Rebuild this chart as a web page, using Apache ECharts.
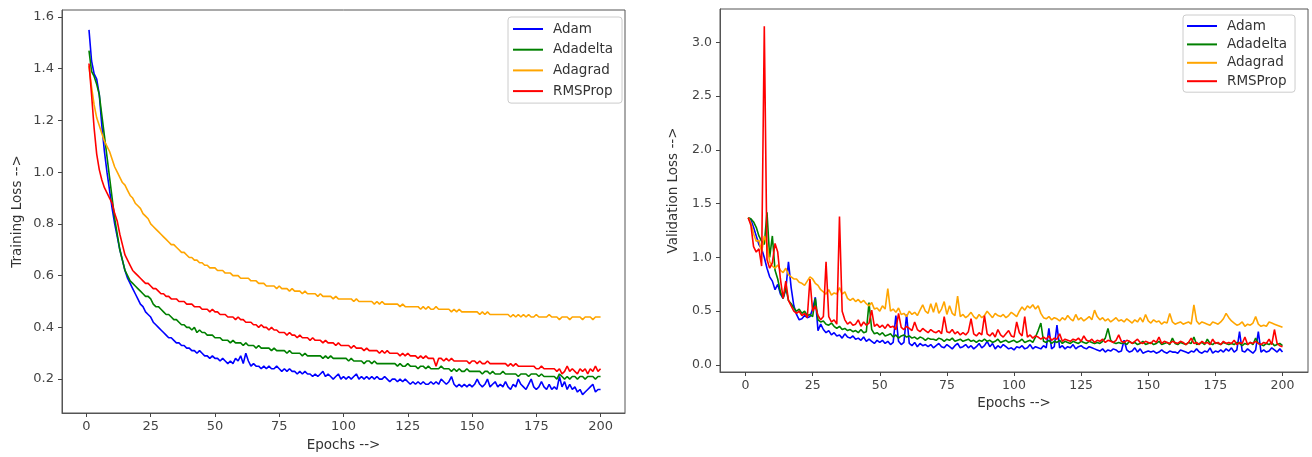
<!DOCTYPE html>
<html>
<head>
<meta charset="utf-8">
<script src="https://cdn.jsdelivr.net/npm/echarts@6/dist/echarts.min.js"></script>
<style>
html,body{margin:0;padding:0;background:#fff;}
#chart{width:1312px;height:457px;}
</style>
</head>
<body>
<div id="chart"></div>
<script>
const seriesNames = ['Adam', 'Adadelta', 'Adagrad', 'RMSProp'];
const xTicks = [0, 25, 50, 75, 100, 125, 150, 175, 200];
const yTicksTrain = [0.2, 0.4, 0.6, 0.8, 1.0, 1.2, 1.4, 1.6];
const yTicksVal = [0.0, 0.5, 1.0, 1.5, 2.0, 2.5, 3.0];
const xTitle = 'Epochs -->';
const yTitleTrain = 'Training Loss -->';
const yTitleVal = 'Validation Loss -->';

// Training loss, epochs 1..200
const trainAdam = [
1.55,1.43,1.38,1.36,1.30,1.18,1.08,1.00,0.93,0.86,
0.80,0.75,0.70,0.66,0.62,0.59,0.57,0.55,0.53,0.51,
0.49,0.48,0.46,0.45,0.44,0.42,0.41,0.40,0.39,0.38,
0.37,0.36,0.36,0.35,0.34,0.34,0.33,0.33,0.32,0.32,
0.31,0.31,0.30,0.31,0.30,0.29,0.29,0.28,0.29,0.28,
0.28,0.27,0.28,0.27,0.26,0.27,0.26,0.28,0.27,0.29,
0.26,0.30,0.27,0.25,0.26,0.25,0.25,0.24,0.25,0.24,
0.25,0.24,0.24,0.25,0.24,0.23,0.24,0.23,0.24,0.23,
0.23,0.22,0.23,0.22,0.23,0.22,0.22,0.21,0.22,0.21,
0.22,0.23,0.21,0.22,0.21,0.20,0.21,0.22,0.20,0.21,
0.20,0.21,0.20,0.21,0.22,0.20,0.21,0.20,0.21,0.20,
0.21,0.20,0.21,0.20,0.20,0.21,0.20,0.19,0.20,0.20,
0.19,0.20,0.19,0.20,0.19,0.18,0.19,0.18,0.19,0.18,
0.19,0.18,0.18,0.19,0.18,0.19,0.18,0.20,0.19,0.18,
0.19,0.21,0.18,0.17,0.18,0.17,0.18,0.17,0.18,0.17,
0.18,0.20,0.18,0.17,0.18,0.20,0.17,0.18,0.19,0.17,
0.18,0.17,0.19,0.17,0.16,0.18,0.17,0.20,0.18,0.17,
0.16,0.18,0.20,0.17,0.16,0.17,0.19,0.17,0.16,0.18,
0.16,0.17,0.16,0.21,0.17,0.19,0.16,0.18,0.16,0.17,
0.15,0.16,0.14,0.15,0.16,0.17,0.18,0.15,0.16,0.16];
const trainAdadelta = [
1.47,1.39,1.37,1.34,1.30,1.22,1.14,1.06,0.98,0.90,
0.82,0.76,0.70,0.66,0.62,0.60,0.58,0.57,0.56,0.55,
0.54,0.53,0.52,0.52,0.51,0.49,0.48,0.48,0.47,0.46,
0.45,0.45,0.44,0.43,0.43,0.42,0.41,0.41,0.40,0.40,
0.39,0.40,0.38,0.39,0.38,0.38,0.37,0.37,0.37,0.36,
0.36,0.36,0.35,0.35,0.35,0.34,0.35,0.34,0.34,0.34,
0.33,0.34,0.33,0.33,0.33,0.32,0.33,0.32,0.32,0.32,
0.32,0.31,0.32,0.31,0.31,0.31,0.31,0.30,0.31,0.30,
0.30,0.30,0.30,0.29,0.30,0.29,0.29,0.29,0.29,0.29,
0.29,0.28,0.29,0.28,0.29,0.28,0.28,0.28,0.28,0.28,
0.28,0.27,0.28,0.27,0.27,0.27,0.27,0.26,0.27,0.27,
0.26,0.27,0.26,0.26,0.26,0.26,0.26,0.26,0.26,0.26,
0.25,0.26,0.25,0.25,0.26,0.25,0.25,0.25,0.24,0.25,
0.25,0.24,0.25,0.24,0.24,0.24,0.24,0.25,0.24,0.24,
0.24,0.23,0.24,0.23,0.24,0.23,0.23,0.24,0.23,0.23,
0.23,0.23,0.23,0.22,0.23,0.23,0.22,0.23,0.22,0.22,
0.22,0.23,0.22,0.22,0.22,0.22,0.22,0.21,0.22,0.22,
0.22,0.21,0.22,0.22,0.22,0.21,0.22,0.21,0.21,0.21,
0.21,0.21,0.20,0.22,0.21,0.20,0.21,0.20,0.21,0.21,
0.20,0.21,0.21,0.20,0.21,0.21,0.21,0.20,0.21,0.21];
const trainAdagrad = [
1.41,1.33,1.26,1.21,1.18,1.15,1.12,1.10,1.08,1.05,
1.02,1.00,0.98,0.96,0.95,0.93,0.91,0.90,0.88,0.87,
0.86,0.84,0.83,0.82,0.80,0.79,0.78,0.77,0.76,0.75,
0.74,0.73,0.72,0.72,0.71,0.70,0.69,0.69,0.68,0.67,
0.67,0.66,0.66,0.65,0.65,0.64,0.64,0.63,0.63,0.63,
0.62,0.62,0.62,0.61,0.61,0.61,0.60,0.60,0.60,0.59,
0.59,0.59,0.59,0.58,0.58,0.58,0.57,0.57,0.57,0.56,
0.56,0.56,0.56,0.55,0.56,0.55,0.55,0.55,0.54,0.55,
0.54,0.54,0.54,0.53,0.54,0.53,0.53,0.53,0.53,0.52,
0.53,0.52,0.52,0.52,0.52,0.51,0.52,0.51,0.51,0.51,
0.51,0.51,0.51,0.50,0.51,0.50,0.50,0.50,0.50,0.50,
0.50,0.49,0.50,0.49,0.50,0.49,0.49,0.49,0.49,0.49,
0.49,0.48,0.49,0.48,0.48,0.48,0.48,0.48,0.48,0.47,
0.48,0.47,0.48,0.47,0.47,0.48,0.47,0.47,0.47,0.47,
0.47,0.46,0.47,0.46,0.47,0.46,0.46,0.46,0.46,0.46,
0.46,0.46,0.45,0.46,0.45,0.46,0.45,0.45,0.45,0.45,
0.45,0.45,0.45,0.45,0.44,0.45,0.44,0.45,0.44,0.45,
0.44,0.45,0.44,0.44,0.45,0.44,0.44,0.44,0.44,0.45,
0.44,0.44,0.44,0.43,0.44,0.44,0.44,0.43,0.44,0.44,
0.44,0.44,0.43,0.44,0.44,0.44,0.43,0.44,0.44,0.44];
const trainRMSProp = [
1.42,1.30,1.17,1.07,1.01,0.97,0.94,0.92,0.90,0.88,
0.84,0.81,0.76,0.72,0.68,0.66,0.64,0.62,0.61,0.60,
0.59,0.58,0.57,0.57,0.56,0.55,0.55,0.54,0.53,0.53,
0.52,0.52,0.51,0.51,0.51,0.50,0.50,0.50,0.49,0.49,
0.49,0.48,0.48,0.48,0.47,0.47,0.47,0.46,0.47,0.46,
0.46,0.45,0.45,0.45,0.44,0.44,0.44,0.43,0.44,0.43,
0.43,0.42,0.42,0.42,0.41,0.41,0.40,0.41,0.40,0.40,
0.39,0.40,0.39,0.39,0.38,0.38,0.38,0.37,0.38,0.37,
0.37,0.36,0.37,0.36,0.36,0.36,0.35,0.36,0.35,0.35,
0.35,0.34,0.35,0.34,0.34,0.34,0.33,0.34,0.33,0.33,
0.33,0.33,0.32,0.33,0.32,0.32,0.32,0.31,0.32,0.31,
0.31,0.31,0.31,0.30,0.31,0.30,0.31,0.30,0.30,0.30,
0.30,0.29,0.30,0.29,0.30,0.29,0.29,0.29,0.28,0.29,
0.28,0.29,0.28,0.28,0.28,0.25,0.28,0.28,0.27,0.28,
0.27,0.28,0.27,0.27,0.27,0.27,0.27,0.27,0.26,0.27,
0.27,0.26,0.27,0.26,0.26,0.27,0.26,0.26,0.26,0.26,
0.26,0.26,0.26,0.25,0.26,0.25,0.26,0.25,0.25,0.25,
0.25,0.25,0.25,0.25,0.24,0.24,0.25,0.24,0.24,0.24,
0.24,0.24,0.23,0.24,0.22,0.23,0.25,0.23,0.24,0.23,
0.22,0.24,0.23,0.24,0.22,0.24,0.23,0.25,0.23,0.24];

// Validation loss, epochs 1..200
const valAdam = [
1.37,1.35,1.28,1.20,1.12,1.08,1.00,0.90,0.82,0.78,
0.70,0.75,0.66,0.62,0.70,0.96,0.72,0.55,0.47,0.42,
0.43,0.46,0.44,0.45,0.52,0.63,0.32,0.38,0.33,0.30,
0.32,0.28,0.30,0.27,0.28,0.25,0.29,0.26,0.25,0.27,
0.24,0.25,0.23,0.26,0.22,0.24,0.22,0.20,0.23,0.21,
0.23,0.20,0.22,0.19,0.21,0.46,0.22,0.19,0.21,0.47,
0.20,0.18,0.21,0.17,0.20,0.18,0.19,0.17,0.19,0.16,
0.18,0.20,0.17,0.16,0.19,0.17,0.15,0.18,0.20,0.16,
0.17,0.19,0.16,0.18,0.15,0.17,0.20,0.16,0.18,0.22,
0.17,0.20,0.15,0.18,0.16,0.19,0.17,0.15,0.16,0.14,
0.17,0.16,0.18,0.15,0.16,0.19,0.15,0.17,0.16,0.15,
0.18,0.16,0.34,0.15,0.17,0.37,0.16,0.18,0.15,0.17,
0.16,0.19,0.15,0.17,0.18,0.16,0.15,0.17,0.16,0.15,
0.14,0.13,0.15,0.12,0.14,0.13,0.15,0.14,0.12,0.13,
0.23,0.14,0.12,0.13,0.16,0.12,0.15,0.11,0.12,0.13,
0.12,0.13,0.11,0.12,0.14,0.12,0.11,0.13,0.12,0.12,
0.11,0.14,0.13,0.12,0.11,0.13,0.12,0.15,0.12,0.11,
0.13,0.12,0.16,0.11,0.13,0.12,0.14,0.12,0.15,0.13,
0.16,0.12,0.14,0.31,0.13,0.12,0.15,0.13,0.11,0.14,
0.31,0.12,0.14,0.12,0.13,0.16,0.14,0.12,0.15,0.12];
const valAdadelta = [
1.37,1.36,1.33,1.28,1.20,1.15,1.12,1.42,1.00,1.20,
0.88,0.80,0.68,0.62,0.72,0.60,0.57,0.53,0.50,0.52,
0.48,0.50,0.46,0.47,0.45,0.62,0.42,0.40,0.41,0.38,
0.37,0.39,0.36,0.34,0.36,0.33,0.34,0.32,0.33,0.31,
0.32,0.30,0.33,0.30,0.31,0.58,0.33,0.29,0.30,0.28,
0.30,0.27,0.28,0.29,0.26,0.28,0.25,0.27,0.28,0.26,
0.27,0.25,0.26,0.24,0.26,0.25,0.23,0.25,0.24,0.24,
0.23,0.25,0.24,0.22,0.24,0.23,0.25,0.22,0.23,0.24,
0.22,0.23,0.24,0.22,0.23,0.21,0.23,0.22,0.24,0.22,
0.23,0.21,0.22,0.24,0.21,0.22,0.23,0.21,0.22,0.23,
0.21,0.22,0.24,0.21,0.22,0.23,0.21,0.26,0.32,0.39,
0.22,0.21,0.23,0.20,0.22,0.21,0.23,0.20,0.22,0.21,
0.20,0.22,0.21,0.20,0.22,0.21,0.20,0.22,0.21,0.20,
0.21,0.20,0.22,0.25,0.34,0.23,0.21,0.20,0.21,0.20,
0.21,0.19,0.22,0.20,0.21,0.19,0.20,0.22,0.19,0.20,
0.21,0.19,0.20,0.22,0.19,0.20,0.21,0.19,0.25,0.20,
0.19,0.21,0.20,0.19,0.21,0.20,0.26,0.19,0.20,0.21,
0.19,0.24,0.20,0.19,0.21,0.20,0.19,0.21,0.20,0.19,
0.20,0.19,0.21,0.20,0.18,0.20,0.19,0.21,0.19,0.25,
0.20,0.19,0.18,0.20,0.19,0.21,0.18,0.19,0.20,0.18];
const valAdagrad = [
1.37,1.32,1.22,1.15,1.16,1.05,1.20,1.12,0.96,0.92,
0.90,0.93,0.88,0.86,0.90,0.84,0.82,0.80,0.80,0.77,
0.76,0.74,0.78,0.82,0.80,0.76,0.74,0.70,0.68,0.66,
0.70,0.65,0.67,0.66,0.72,0.66,0.68,0.62,0.60,0.62,
0.59,0.61,0.58,0.60,0.57,0.55,0.58,0.52,0.53,0.50,
0.55,0.52,0.71,0.50,0.52,0.49,0.53,0.47,0.48,0.45,
0.50,0.47,0.49,0.46,0.51,0.56,0.50,0.48,0.57,0.49,
0.58,0.48,0.52,0.59,0.47,0.55,0.48,0.46,0.64,0.45,
0.47,0.44,0.46,0.49,0.45,0.43,0.47,0.44,0.46,0.50,
0.47,0.44,0.48,0.46,0.45,0.47,0.44,0.46,0.49,0.47,
0.45,0.50,0.54,0.51,0.55,0.53,0.56,0.52,0.55,0.48,
0.44,0.43,0.45,0.42,0.44,0.43,0.41,0.44,0.42,0.46,
0.43,0.41,0.47,0.42,0.44,0.41,0.43,0.45,0.42,0.51,
0.45,0.42,0.44,0.41,0.43,0.40,0.42,0.44,0.41,0.42,
0.40,0.43,0.41,0.39,0.42,0.40,0.44,0.40,0.47,0.41,
0.39,0.42,0.40,0.41,0.38,0.40,0.39,0.48,0.40,0.38,
0.39,0.40,0.38,0.39,0.40,0.38,0.56,0.41,0.38,0.40,
0.39,0.38,0.37,0.40,0.39,0.38,0.40,0.43,0.48,0.44,
0.41,0.39,0.37,0.38,0.40,0.36,0.38,0.37,0.39,0.45,
0.38,0.36,0.37,0.36,0.40,0.39,0.38,0.37,0.36,0.35];
const valRMSProp = [
1.37,1.30,1.10,1.05,1.08,0.92,3.15,0.98,0.90,0.95,
1.13,1.05,0.80,0.62,0.78,0.60,0.55,0.50,0.48,0.50,
0.46,0.48,0.44,0.80,0.50,0.55,0.46,0.42,0.45,0.96,
0.45,0.40,0.42,0.38,1.38,0.50,0.42,0.38,0.40,0.37,
0.38,0.42,0.36,0.40,0.37,0.39,0.51,0.36,0.38,0.35,
0.37,0.34,0.38,0.35,0.36,0.33,0.48,0.35,0.33,0.36,
0.34,0.32,0.40,0.33,0.31,0.34,0.32,0.30,0.33,0.31,
0.30,0.32,0.29,0.45,0.31,0.30,0.33,0.29,0.31,0.28,
0.30,0.28,0.31,0.43,0.29,0.27,0.30,0.28,0.46,0.29,
0.27,0.30,0.26,0.33,0.28,0.26,0.29,0.32,0.27,0.26,
0.40,0.30,0.27,0.45,0.26,0.28,0.25,0.27,0.26,0.24,
0.26,0.24,0.27,0.23,0.25,0.24,0.29,0.22,0.24,0.23,
0.22,0.24,0.23,0.25,0.22,0.27,0.23,0.22,0.24,0.21,
0.23,0.22,0.24,0.21,0.23,0.22,0.21,0.23,0.28,0.22,
0.21,0.23,0.22,0.20,0.22,0.24,0.21,0.20,0.22,0.21,
0.20,0.23,0.21,0.26,0.20,0.22,0.21,0.20,0.22,0.21,
0.20,0.22,0.21,0.19,0.21,0.25,0.20,0.21,0.19,0.22,
0.20,0.21,0.19,0.24,0.20,0.21,0.19,0.22,0.20,0.21,
0.20,0.23,0.19,0.21,0.20,0.26,0.19,0.21,0.20,0.22,
0.20,0.19,0.21,0.20,0.24,0.19,0.33,0.20,0.18,0.17];

const colors = ['#0000ff', '#008000', '#ffa500', '#ff0000'];
const FONT = 'DejaVu Sans';

const epochs = trainAdam.map((_, i) => i + 1);
const pairs = (arr) => arr.map((v, i) => [epochs[i], v]);

const trainSets = [trainAdam, trainAdadelta, trainAdagrad, trainRMSProp];
const valSets = [valAdam, valAdadelta, valAdagrad, valRMSProp];

function xAxisCfg(gridIndex, nameGap, tickFont) {
  return {
    type: 'value', gridIndex, min: -9.5, max: 209.5,
    name: xTitle, nameLocation: 'middle', nameGap,
    nameTextStyle: { fontFamily: FONT, fontSize: 13.5, color: '#333' },
    axisLine: { show: true, onZero: false, lineStyle: { color: '#555', width: 1 } },
    axisTick: { show: true, inside: false, length: 4, customValues: xTicks, lineStyle: { color: '#444', width: 1 } },
    axisLabel: { customValues: xTicks, fontFamily: FONT, fontSize: tickFont, color: '#444', margin: 7 },
    splitLine: { show: false }
  };
}
function yAxisCfg(gridIndex, min, max, ticks, name, nameGap, tickFont) {
  return {
    type: 'value', gridIndex, min, max,
    name, nameLocation: 'middle', nameGap,
    nameTextStyle: { fontFamily: FONT, fontSize: 13.5, color: '#333' },
    axisLine: { show: true, onZero: false, lineStyle: { color: '#555', width: 1 } },
    axisTick: { show: true, inside: false, length: 4, customValues: ticks, lineStyle: { color: '#444', width: 1 } },
    axisLabel: { customValues: ticks, fontFamily: FONT, fontSize: tickFont, color: '#444', margin: 8,
                 formatter: (v) => v.toFixed(1) },
    splitLine: { show: false }
  };
}
function legendCfg(left, top, padding, itemGap) {
  return {
    data: seriesNames, orient: 'vertical', left, top, padding, itemGap,
    icon: 'rect', itemWidth: 30, itemHeight: 2,
    textStyle: { fontFamily: FONT, fontSize: 13.5, color: '#333', lineHeight: 14, padding: [0, 0, 0, 5] },
    backgroundColor: '#fff', borderColor: '#cccccc', borderWidth: 1, borderRadius: 3,
    selectedMode: false
  };
}

const series = [];
seriesNames.forEach((n, i) => {
  series.push({
    name: n, type: 'line', xAxisIndex: 0, yAxisIndex: 0, data: pairs(trainSets[i]),
    showSymbol: false, symbol: 'none', lineStyle: { width: 1.6, color: colors[i] }, itemStyle: { color: colors[i] },
    emphasis: { disabled: true }
  });
});
seriesNames.forEach((n, i) => {
  series.push({
    name: n, type: 'line', xAxisIndex: 1, yAxisIndex: 1, data: pairs(valSets[i]),
    showSymbol: false, symbol: 'none', lineStyle: { width: 1.6, color: colors[i] }, itemStyle: { color: colors[i] },
    emphasis: { disabled: true }
  });
});

const chart = echarts.init(document.getElementById('chart'), null, { renderer: 'canvas' });
chart.setOption({
  animation: false,
  backgroundColor: '#fff',
  grid: [
    { left: 62, top: 10, width: 563, height: 405, show: true, borderColor: '#555', borderWidth: 1, backgroundColor: 'transparent' },
    { left: 720, top: 9, width: 588, height: 363, show: true, borderColor: '#555', borderWidth: 1, backgroundColor: 'transparent' }
  ],
  xAxis: [xAxisCfg(0, 25, 13), xAxisCfg(1, 23, 12.5)],
  yAxis: [
    yAxisCfg(0, 0.069, 1.627, yTicksTrain, yTitleTrain, 38, 13),
    yAxisCfg(1, -0.065, 3.31, yTicksVal, yTitleVal, 40, 12.5)
  ],
  legend: [
    legendCfg(508, 17, [5, 9, 5, 5], 6.7),
    legendCfg(1183, 15, [4, 8, 4, 4], 4.4)
  ],
  series
});
</script>
</body>
</html>
